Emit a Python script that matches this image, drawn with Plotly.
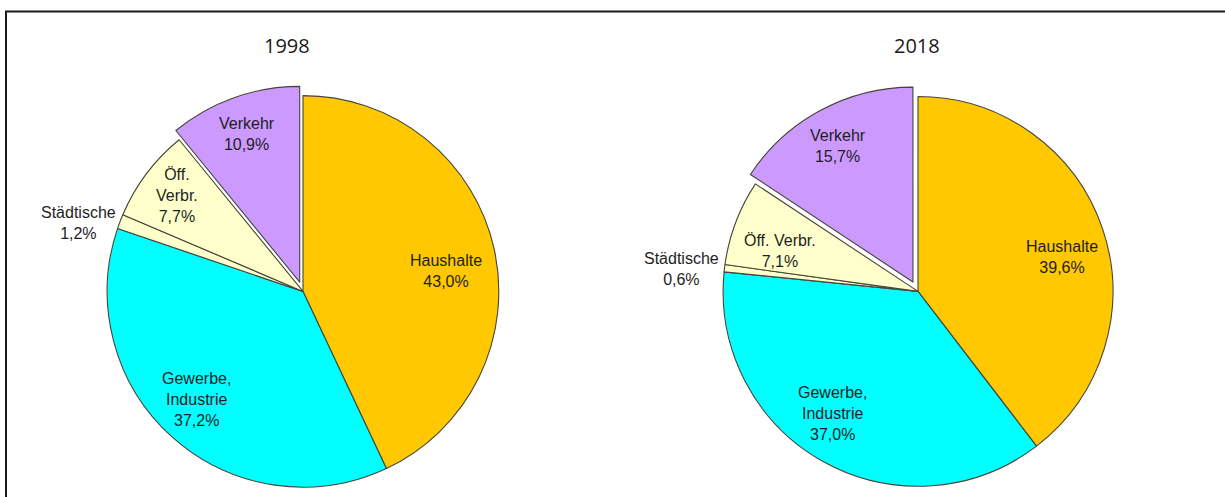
import math
import plotly.graph_objects as go

categories = ["Haushalte", "Gewerbe, Industrie", "Städtische", "Öff. Verbr.", "Verkehr"]
values_1998 = [43.0, 37.2, 1.2, 7.7, 10.9]
values_2018 = [39.6, 37.0, 0.6, 7.1, 15.7]
text_1998 = ["Haushalte", "Gewerbe,<br>Industrie", "Städtische", "Öff.<br>Verbr.", "Verkehr"]
text_2018 = ["Haushalte", "Gewerbe,<br>Industrie", "Städtische", "Öff. Verbr.", "Verkehr"]
years = ["1998", "2018"]
pull_1998 = [0, 0, 0, 0, 0.05]
pull_2018 = [0, 0, 0, 0, 0.055]

# label placement style: (radius as fraction of pie radius, angle nudge in degrees)
label_pos_1998 = [(0.74, 4.3), (0.776, 2.9), (1.20, -3.9), (0.81, 0.4), (0.856, 0.0)]
label_pos_2018 = [(0.76, 5.4), (0.763, 5.7), (1.22, -1.3), (0.74, -4.2), (0.851, -0.5)]

colors = ["#FFC800", "#00FFFF", "#FFFFCC", "#FFFFCC", "#CC99FF"]
W, H = 1225, 497
FONT = "Liberation Sans, Arial"

fig = go.Figure()
annotations = []


def clamp(v):
    return max(0.0, min(1.0, v))


def fmt(v):
    return f"{v:.1f}".replace(".", ",") + "%"


def add_pie(vals, txt, pull, label_pos, cx, cy, half):
    fig.add_trace(go.Pie(
        labels=categories, values=vals,
        textinfo="none",
        sort=False, direction="clockwise", rotation=0,
        pull=pull,
        marker=dict(colors=colors, line=dict(color="#45453a", width=1.1)),
        domain=dict(x=[clamp((cx - half) / W), clamp((cx + half) / W)],
                    y=[clamp(1 - (cy + half) / H), clamp(1 - (cy - half) / H)]),
        showlegend=False, hoverinfo="label+percent",
    ))
    r = half / (1 + max(pull))
    total = sum(vals)
    cum = 0.0
    for v, t, (fr, nudge) in zip(vals, txt, label_pos):
        mid = (cum + v / 2) / total * 360 + nudge
        cum += v
        a = math.radians(mid)
        xp = cx + fr * r * math.sin(a)
        yp = cy - fr * r * math.cos(a)
        annotations.append(dict(
            text=f"{t}<br>{fmt(v)}", x=xp / W, y=1 - yp / H,
            xref="paper", yref="paper", xanchor="center", yanchor="middle",
            showarrow=False, align="center",
            font=dict(family=FONT, size=16, color="#1e1e1e"),
        ))


add_pie(values_1998, text_1998, pull_1998, label_pos_1998, 303, 291.5, 205.7)
add_pie(values_2018, text_2018, pull_2018, label_pos_2018, 918, 291.5, 205.7)

annotations += [
    dict(text=years[0], x=287 / W, y=1 - 46 / H, xref="paper", yref="paper",
         xanchor="center", yanchor="middle", showarrow=False,
         font=dict(family="Open Sans", size=20, color="#1a1a1a")),
    dict(text=years[1], x=917 / W, y=1 - 46 / H, xref="paper", yref="paper",
         xanchor="center", yanchor="middle", showarrow=False,
         font=dict(family="Open Sans", size=20, color="#1a1a1a")),
]

fig.update_layout(
    width=W, height=H,
    margin=dict(l=0, r=0, t=0, b=0),
    paper_bgcolor="white", plot_bgcolor="white",
    annotations=annotations,
    shapes=[
        dict(type="rect", xref="paper", yref="paper",
             x0=6 / W, x1=1.02, y0=-0.02, y1=1 - 11.5 / H,
             line=dict(color="#1a1a1a", width=2), layer="above"),
    ],
)

fig.write_html("out.html", config={"displayModeBar": False},
               post_script="document.body.style.margin='0';")
